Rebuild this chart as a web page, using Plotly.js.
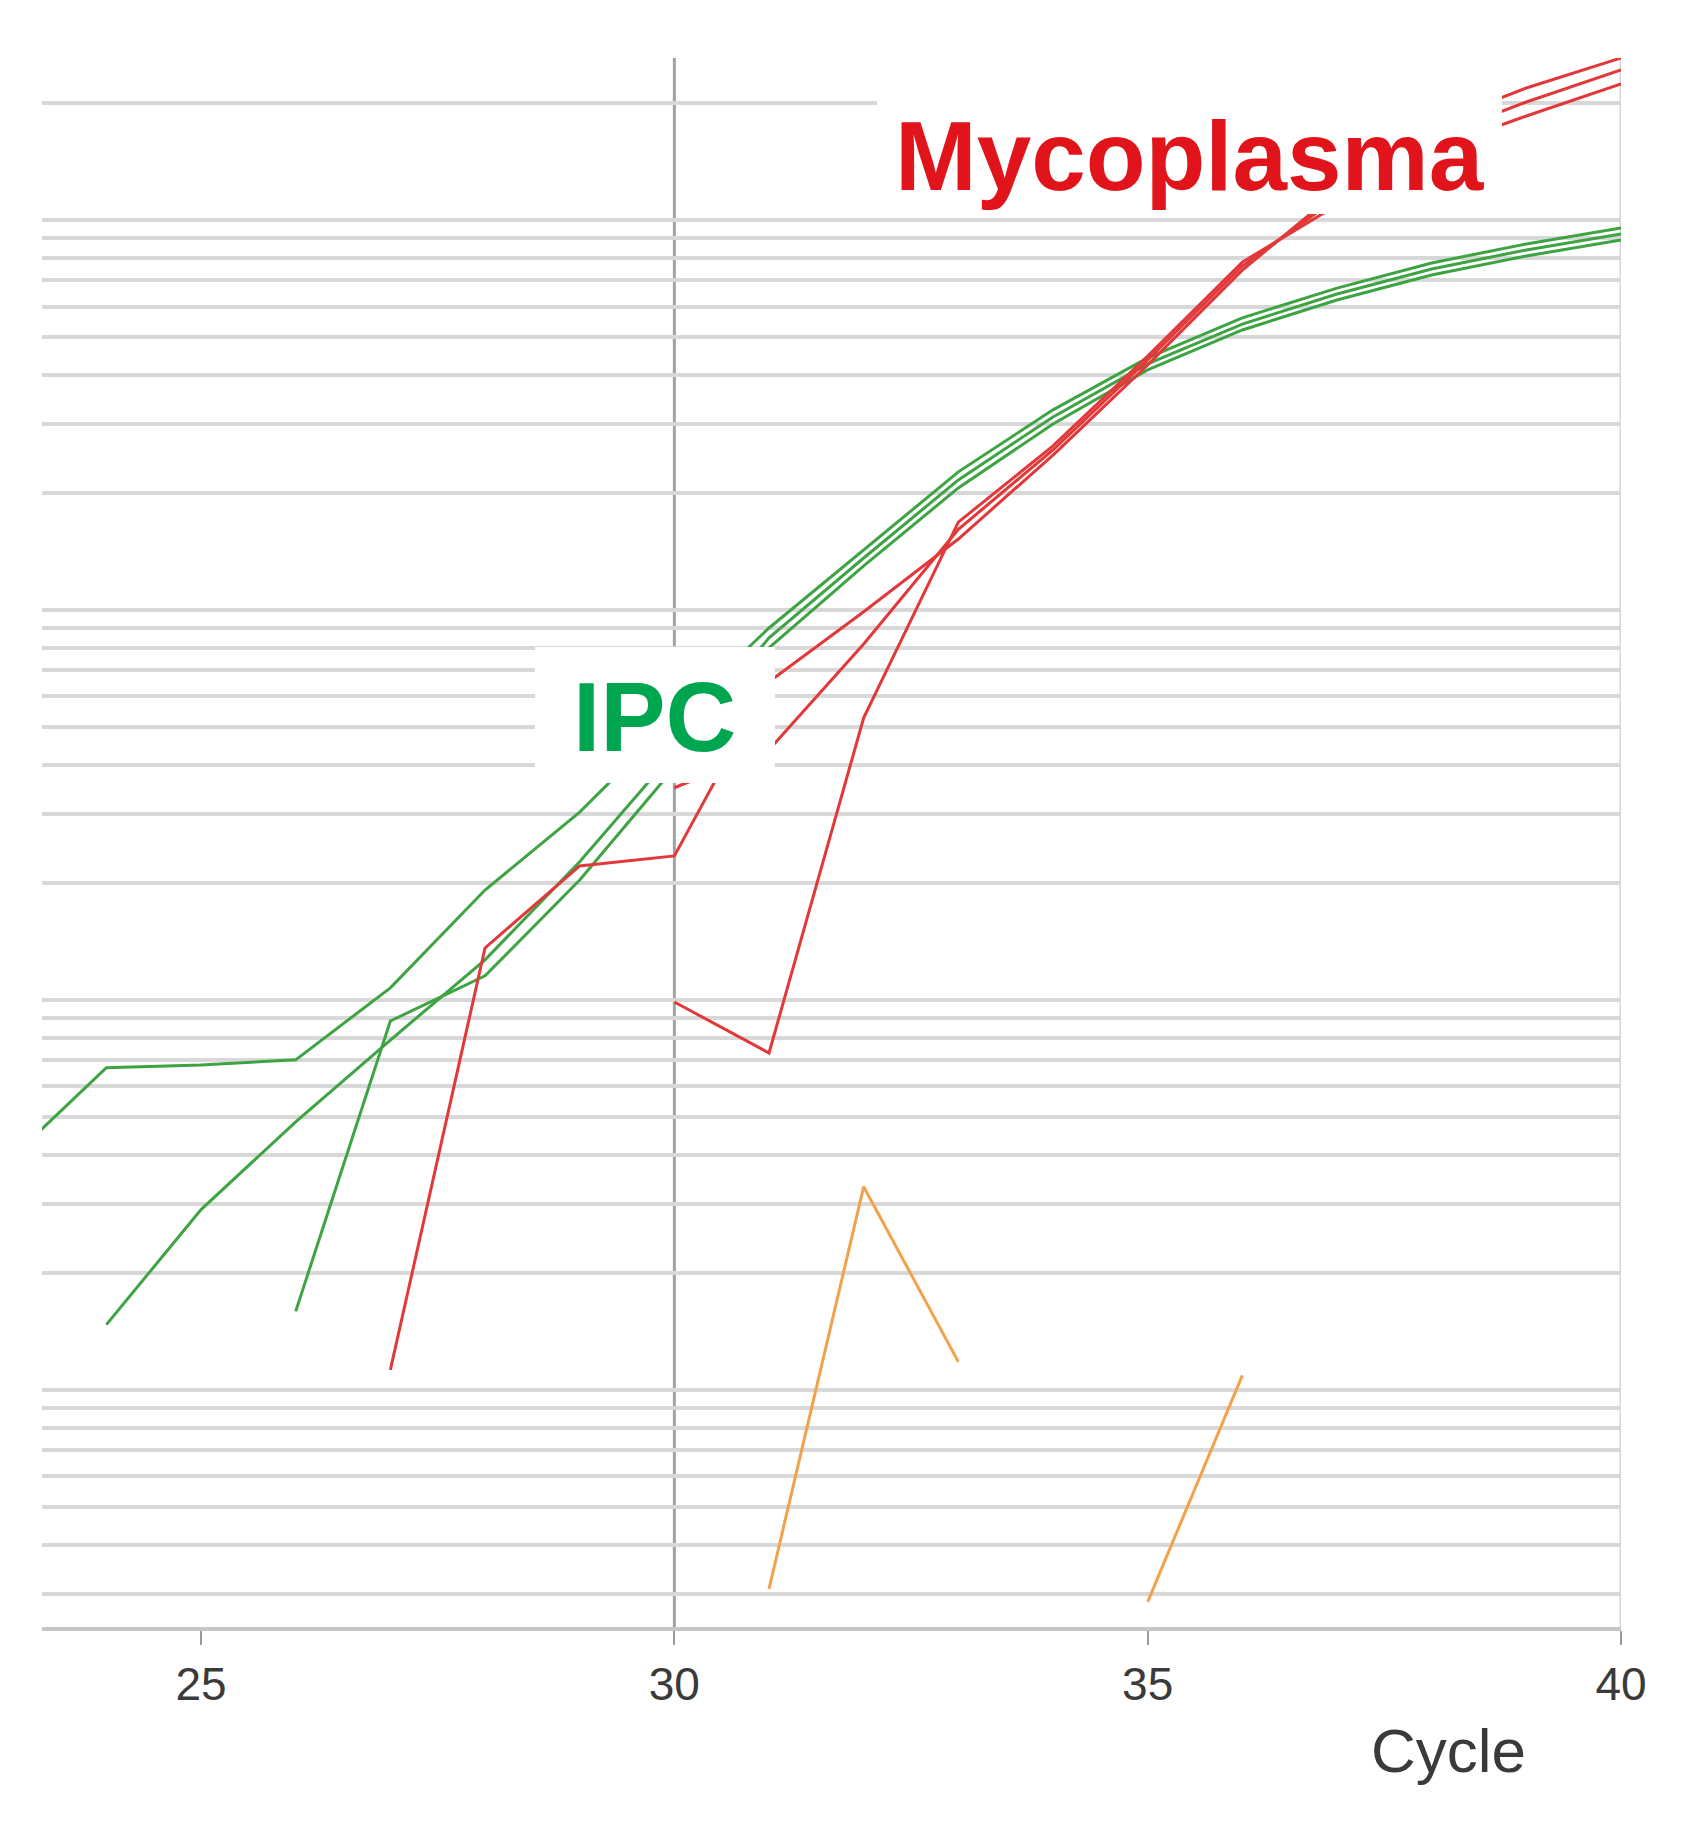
<!DOCTYPE html>
<html>
<head>
<meta charset="utf-8">
<script src="https://cdn.plot.ly/plotly-3.0.1.min.js"></script>
<style>
  html, body { margin: 0; padding: 0; background: #ffffff; }
  #chart { width: 1697px; height: 1825px; }
</style>
</head>
<body>
<div id="chart"></div>
<script>
// ---------- data (fluorescence, log scale) ----------
const ipc1Cycles = [23,24,25,26,27,28,29,30,31,32,33,34,35,36,37,38,39,40];
const ipc1Values = [0.00394,0.00670,0.00681,0.00702,0.01074,0.01914,0.0303,0.0529,0.0899,0.1425,0.226,0.326,0.443,0.561,0.669,0.776,0.868,0.954];

const ipc2Cycles = [24,25,26,27,28,29,30,31,32,33,34,35,36,37,38,39,40];
const ipc2Values = [0.00147,0.00290,0.00487,0.00789,0.01267,0.0226,0.0432,0.0848,0.1359,0.2155,0.3126,0.4276,0.541,0.646,0.749,0.838,0.921];

const ipc3Cycles = [26,27,28,29,30,31,32,33,34,35,36,37,38,39,40];
const ipc3Values = [0.00159,0.00883,0.01153,0.0203,0.0394,0.0800,0.1297,0.2056,0.2998,0.4125,0.5224,0.6237,0.7228,0.8085,0.8887];

const myco1Cycles = [27,28,29,30,31,32,33,34,35,36,37,38,39,40];
const myco1Values = [0.001125,0.01359,0.02206,0.02340,0.0654,0.0989,0.1520,0.2496,0.4250,0.744,1.180,1.753,2.180,2.603];

const myco2Cycles = [30,31,32,33,34,35,36,37,38,39,40];
const myco2Values = [0.00988,0.00731,0.0529,0.1680,0.2634,0.4480,0.780,1.093,1.512,1.848,2.232];

const myco3Cycles = [30,31,32,33,34,35,36,37,38,39,40];
const myco3Values = [0.0350,0.0438,0.0818,0.1610,0.2572,0.4377,0.762,1.139,1.623,2.007,2.425];

const neg1Cycles = [31,32,33];
const neg1Values = [0.000309,0.00332,0.00118];

const neg2Cycles = [35,36];
const neg2Values = [0.000286,0.00109];

const xTickVals = [25,30,35,40];
const xTickText = ['25','30','35','40'];
const xTitle = 'Cycle';
const labelMyco = 'Mycoplasma';
const labelIPC = 'IPC';

// ---------- styling ----------
const GREEN = '#3ea443';
const RED = '#e2383a';
const ORANGE = '#f3a24c';
const LW = 3;

function trace(x, y, color) {
  return { x: x, y: y, type: 'scatter', mode: 'lines',
           line: { color: color, width: LW, shape: 'linear' },
           hoverinfo: 'skip', showlegend: false };
}

const data = [
  trace(ipc1Cycles, ipc1Values, GREEN),
  trace(ipc2Cycles, ipc2Values, GREEN),
  trace(ipc3Cycles, ipc3Values, GREEN),
  trace(myco1Cycles, myco1Values, RED),
  trace(myco2Cycles, myco2Values, RED),
  trace(myco3Cycles, myco3Values, RED),
  trace(neg1Cycles, neg1Values, ORANGE),
  trace(neg2Cycles, neg2Values, ORANGE)
];

// log gridlines at 1..9 x 10^n
const gridVals = [];
for (let n = -4; n <= 0; n++) {
  for (let k = 1; k <= 9; k++) gridVals.push(k * Math.pow(10, n));
}

const layout = {
  width: 1697, height: 1825,
  margin: { l: 42, r: 76, t: 58, b: 198 },
  paper_bgcolor: '#ffffff', plot_bgcolor: '#ffffff',
  showlegend: false,
  hovermode: false,
  xaxis: {
    type: 'linear', range: [23.32, 40],
    tickmode: 'array', tickvals: xTickVals, ticktext: xTickText,
    ticks: 'outside', ticklen: 14, tickwidth: 2, tickcolor: '#9a9a9a',
    ticklabelstandoff: 0,
    tickfont: { family: 'Liberation Sans, Arial, sans-serif', size: 46, color: '#3a3a3a' },
    showgrid: false, zeroline: false,
    showline: true, linecolor: '#c6c6c6', linewidth: 4
  },
  yaxis: {
    type: 'log', range: [-3.608, 0.4154],
    tickmode: 'array', tickvals: gridVals,
    showticklabels: false, ticks: '',
    showgrid: true, gridcolor: '#d8d8d8', gridwidth: 4,
    zeroline: false, showline: false
  },
  shapes: [
    { type: 'line', xref: 'x', yref: 'paper', x0: 30, x1: 30, y0: 0, y1: 1,
      line: { color: '#a2a2a2', width: 3 }, layer: 'between' },
    { type: 'line', xref: 'x', yref: 'paper', x0: 40, x1: 40, y0: 0, y1: 1,
      line: { color: '#d6d6d6', width: 3 }, layer: 'between' },
    { type: 'rect', xref: 'paper', yref: 'paper', x0: 0.5288, x1: 0.9246, y0: 0.9006, y1: 0.99,
      fillcolor: '#ffffff', line: { width: 0 }, layer: 'above' },
    { type: 'rect', xref: 'paper', yref: 'paper', x0: 0.3122, x1: 0.4642, y0: 0.5379, y1: 0.6246,
      fillcolor: '#ffffff', line: { width: 0 }, layer: 'above' }
  ],
  annotations: [
    { text: labelMyco, xref: 'paper', yref: 'paper', x: 0.727, y: 0.9375,
      xanchor: 'center', yanchor: 'middle', showarrow: false,
      font: { family: 'Liberation Sans, Arial, sans-serif', size: 98, color: '#e1141b', weight: 'bold' } },
    { text: labelIPC, xref: 'paper', yref: 'paper', x: 0.3879, y: 0.580,
      xanchor: 'center', yanchor: 'middle', showarrow: false,
      font: { family: 'Liberation Sans, Arial, sans-serif', size: 98, color: '#00a550', weight: 'bold' } },
    { text: xTitle, xref: 'paper', yref: 'paper', x: 0.891, y: -0.0784,
      xanchor: 'center', yanchor: 'middle', showarrow: false,
      font: { family: 'Liberation Sans, Arial, sans-serif', size: 62, color: '#3a3a3a' } }
  ]
};

Plotly.newPlot('chart', data, layout, { staticPlot: true, displayModeBar: false });
</script>
</body>
</html>
